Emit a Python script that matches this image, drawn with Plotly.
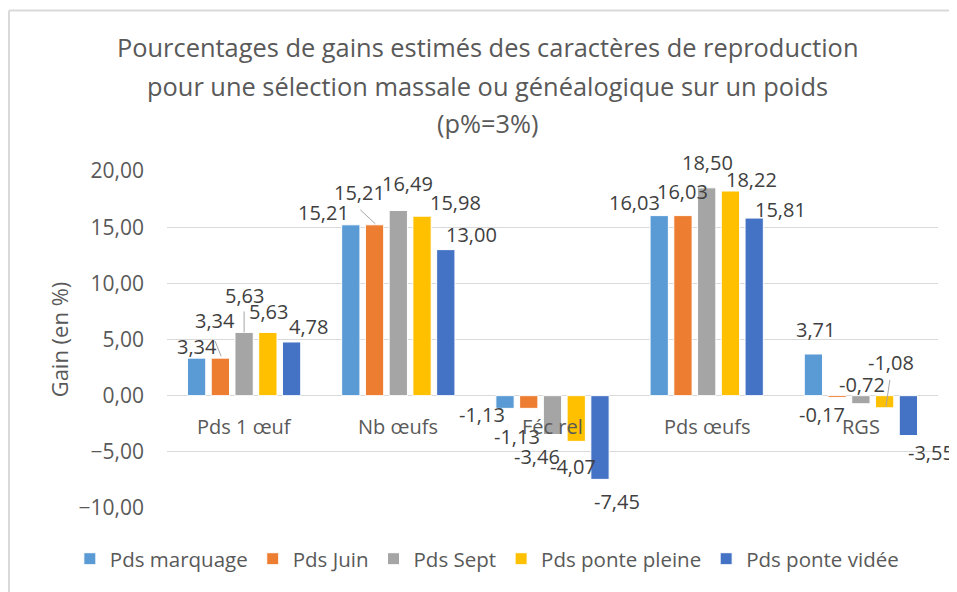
import plotly.graph_objects as go

# categories and series (gain in %)
categories = ["Pds 1 œuf", "Nb œufs", "Féc rel", "Pds œufs", "RGS"]
series_names = ["Pds marquage", "Pds Juin", "Pds Sept", "Pds ponte pleine", "Pds ponte vidée"]
pds_marquage = [3.34, 15.21, -1.13, 16.03, 3.71]
pds_juin = [3.34, 15.21, -1.13, 16.03, -0.17]
pds_sept = [5.63, 16.49, -3.46, 18.50, -0.72]
pds_ponte_pleine = [5.63, 15.98, -4.07, 18.22, -1.08]
pds_ponte_videe = [4.78, 13.00, -7.45, 15.81, -3.55]
series_values = [pds_marquage, pds_juin, pds_sept, pds_ponte_pleine, pds_ponte_videe]
colors = ["#5B9BD5", "#ED7D31", "#A5A5A5", "#FFC000", "#4472C4"]

# hand-placed data label offsets (px from bar tip, x right / y down), as in the Excel original
label_offsets = [
    [(0, -12), (-27, -12), (-23, 6), (-25, -13), (2, -24)],
    [(-5, -38), (-15, -32), (-12, 28), (0, -24), (-15, 17)],
    [(0, -37), (9, -27), (-16, 22), (1, -25), (1, -19)],
    [(1, -21), (33, -14), (-3, 25), (21, -12), (6, -45)],
    [(17, -15), (26, -15), (17, 22), (26, -9), (23, 17)],
]
slot = 23.75  # px between bar centers in a group
FONT = "Open Sans"

fig = go.Figure()
for name, vals, col in zip(series_names, series_values, colors):
    fig.add_trace(go.Bar(
        name=name, x=list(range(len(categories))), y=vals,
        marker=dict(color=col, line=dict(color="white", width=1)),
    ))

annotations = []
for s, vals in enumerate(series_values):
    for c, v in enumerate(vals):
        dx, dy = label_offsets[s][c]
        annotations.append(dict(
            x=c, y=v, xref="x", yref="y", showarrow=False,
            text=f"{v:.2f}".replace(".", ","),
            xshift=(s - 2) * slot + dx, yshift=-dy, yanchor="middle",
            font=dict(family=FONT, size=20, color="#404040"),
        ))

# category labels sit next to the zero line
for c, cat in enumerate(categories):
    annotations.append(dict(
        x=c, y=0, xref="x", yref="y", showarrow=False, text=cat,
        yshift=-31, yanchor="middle",
        font=dict(family=FONT, size=20, color="#595959"),
    ))

title_lines = ["Pourcentages de gains estimés des caractères de reproduction",
               "pour une sélection massale ou généalogique sur un poids",
               "(p%=3%)"]
for line, ty in zip(title_lines, [1.367, 1.251, 1.141]):
    annotations.append(dict(
        x=0.416, y=ty, xref="paper", yref="paper", showarrow=False, text=line,
        yanchor="middle", font=dict(family=FONT, size=25.4, color="#595959"),
    ))

# leader lines
leaders = [(0, 3.34, -29, -23, 17, 2), (0, 5.63, 0, 0, 21, 0),
           (1, 15.21, -38, -23, 15, 1), (4, -1.08, 29, 25, 28, 1)]
shapes = []
for c, v, x0, x1, y0, y1 in leaders:
    shapes.append(dict(type="line", xref="x", yref="y", xsizemode="pixel", ysizemode="pixel",
                       xanchor=c, yanchor=v, x0=x0, x1=x1, y0=y0, y1=y1,
                       line=dict(color="#A6A6A6", width=1)))
# chart area border (top and left visible)
shapes.append(dict(type="line", xref="paper", yref="paper", x0=-0.205, x1=1.02,
                   y0=1.476, y1=1.476, line=dict(color="#D9D9D9", width=2)))
shapes.append(dict(type="line", xref="paper", yref="paper", x0=-0.205, x1=-0.205,
                   y0=1.476, y1=-0.26, line=dict(color="#D9D9D9", width=2)))

# page body keeps an 8px margin, so the figure is 8px smaller each way
fig.update_layout(
    width=949, height=584,
    margin=dict(l=159, r=19, t=163, b=84),
    paper_bgcolor="white", plot_bgcolor="white",
    barmode="group", bargap=0.23, bargroupgap=0.23,
    separators=", ",
    font=dict(family=FONT, size=20, color="#595959"),
    showlegend=True,
    legend=dict(orientation="h", x=-0.126, xanchor="left",
                y=-0.151, yanchor="middle", font=dict(size=20.5, color="#595959"),
                itemwidth=30, tracegroupgap=0),
    annotations=annotations,
    shapes=shapes,
)
fig.update_xaxes(range=[-0.5, 4.5], showticklabels=False, showgrid=False,
                 zeroline=False, showline=False, ticks="")
fig.update_yaxes(range=[-10, 20], dtick=5, tickformat=".2f",
                 showgrid=True, gridcolor="#D9D9D9", gridwidth=1,
                 zeroline=True, zerolinecolor="#D9D9D9", zerolinewidth=1,
                 ticklabelstandoff=22,
                 title=dict(text="Gain (en %)", standoff=3,
                            font=dict(size=22, color="#595959")),
                 tickfont=dict(size=21, color="#595959"))

fig.write_html("out.html")
